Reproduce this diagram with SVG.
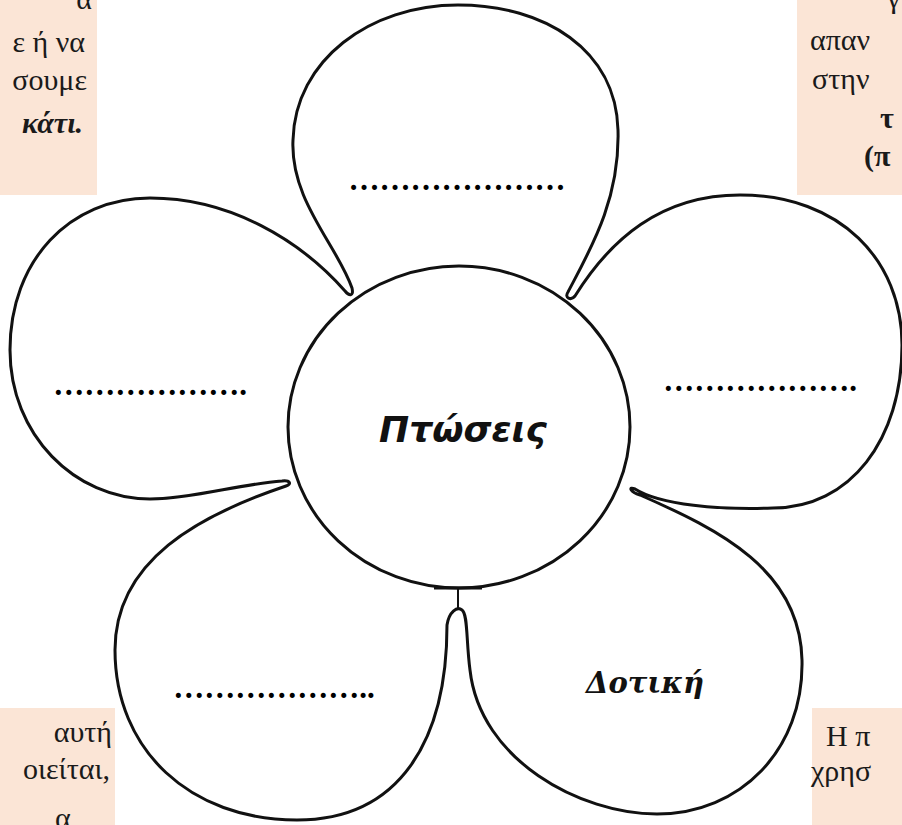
<svg xmlns="http://www.w3.org/2000/svg" width="902" height="825" viewBox="0 0 902 825">
<style>
.box{fill:#FBE5D6}
.bt{font-family:"Liberation Serif","DejaVu Serif",serif;font-size:30px;fill:#1a1a1a}
.bb{font-weight:bold}
.bi{font-weight:bold;font-style:italic}
.dots{font-family:"Liberation Serif",serif;font-size:31px;font-weight:bold;fill:#000;text-anchor:middle}
.ol{fill:#fff;stroke:#111;stroke-width:3;stroke-linejoin:round;stroke-linecap:round}
</style>
<rect width="902" height="825" fill="#fff"/>
<g id="box-tl">
<rect class="box" x="0" y="0" width="97" height="195"/>
<text class="bt" text-anchor="end"><tspan x="92" y="9">α</tspan><tspan x="85" y="52">ε ή να</tspan><tspan x="87" y="90">σουμε</tspan><tspan x="83" y="133" class="bi">κάτι.</tspan></text>
</g>
<g id="box-tr">
<rect class="box" x="797" y="0" width="105" height="195"/>
<text class="bt"><tspan x="887" y="8">γ</tspan><tspan x="810" y="50">απαν</tspan><tspan x="812" y="89">στην</tspan><tspan x="880" y="128" class="bb">τ</tspan><tspan x="864" y="166" class="bb">(π</tspan></text>
</g>
<g id="box-bl">
<rect class="box" x="0" y="708" width="115" height="117"/>
<text class="bt"><tspan x="112" y="742" text-anchor="end">αυτή</tspan><tspan x="110" y="779" text-anchor="end">οιείται,</tspan><tspan x="55" y="828">α</tspan></text>
</g>
<g id="box-br">
<rect class="box" x="812" y="708" width="90" height="117"/>
<text class="bt"><tspan x="826" y="746">Η π</tspan><tspan x="811" y="781">χρησ</tspan></text>
</g>
<g id="flower">
<path class="ol" d="M352,288 C337,245 290,200 293,140 C295,60 370,5 458,5 C545,5 616,50 618,130 C620,200 590,250 568,292 C564,298 571,301 575,296 C610,240 660,195 740,195 C840,195 902,260 902,345 C902,440 850,508 773,508 C720,510 660,505 635,489 C628,486 630,492 640,495 C720,530 800,570 802,660 C804,750 740,814 657,814 C580,814 480,760 470,670 C466,640 468,614 462,610 C457,606 449,612 447,625 C447,740 400,820 297,820 C190,820 115,750 115,650 C115,560 200,515 286,486 C292,484 290,480 282,481 C240,484 190,499 150,499 C75,499 10,435 10,350 C10,260 70,198 150,198 C230,198 300,240 345,291 C349,296 354,297 352,288 Z"/>
</g>
<g id="connectors">
<line x1="458" y1="588" x2="458" y2="609" stroke="#111" stroke-width="2"/>
</g>
<g id="center">
<ellipse class="ol" cx="459" cy="427" rx="171" ry="161" stroke-width="2.5"/>
<line x1="434" y1="588" x2="482" y2="588" stroke="#111" stroke-width="3"/>
<text x="463" y="442" font-family="'DejaVu Sans',sans-serif" font-style="italic" font-weight="bold" font-size="36" text-anchor="middle" fill="#111">Πτώσεις</text>
</g>
<g id="petal-top"><text class="dots" x="457" y="190">…………………</text></g>
<g id="petal-left"><text class="dots" x="150" y="395">……………….</text></g>
<g id="petal-right"><text class="dots" x="760" y="391">……………….</text></g>
<g id="petal-lowleft"><text class="dots" x="274" y="698">………………..</text></g>
<g id="petal-lowright"><text x="645" y="693" font-family="'DejaVu Serif',serif" font-weight="bold" font-style="italic" font-size="29" text-anchor="middle" fill="#111">Δοτική</text></g>
</svg>
